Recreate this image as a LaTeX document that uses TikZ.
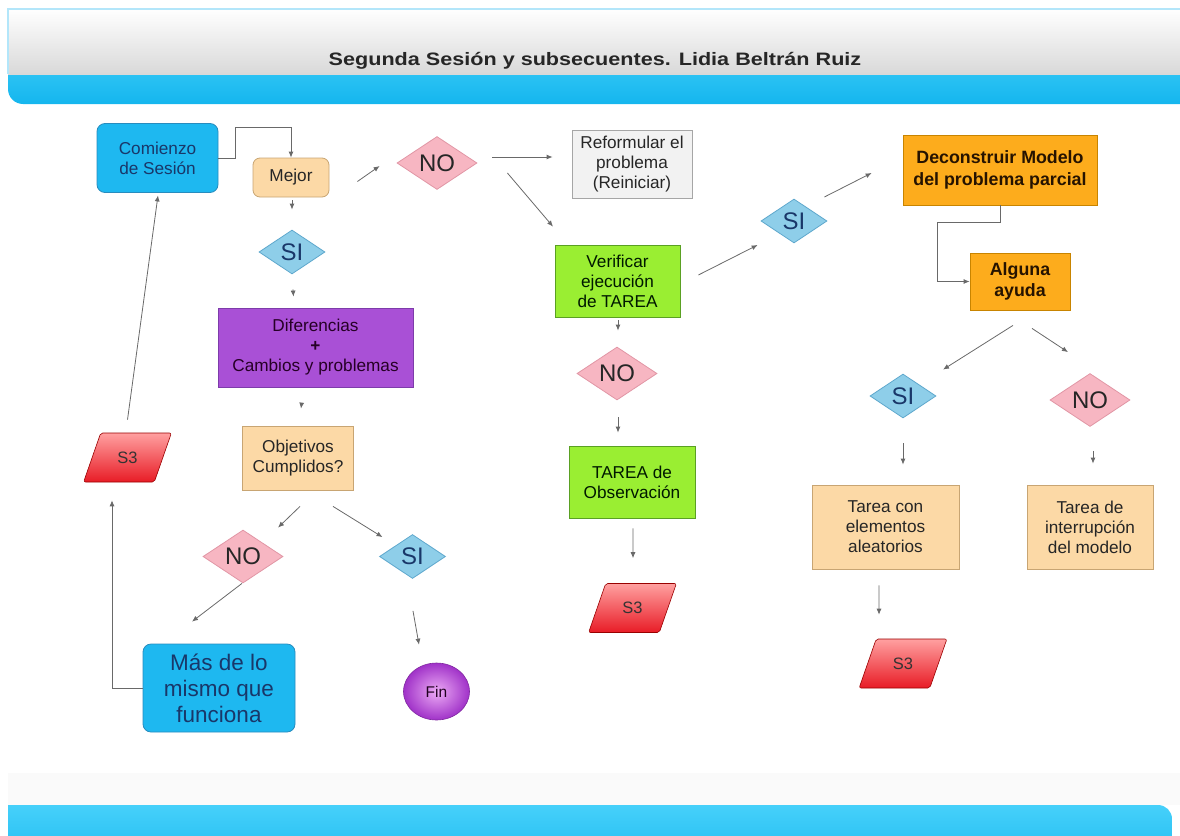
\documentclass[tikz,border=0pt]{standalone}
\usepackage{fontspec}
\setmainfont{Liberation Sans}
\newfontfamily\titulofont[FakeStretch=1.2]{Liberation Sans}
\usepackage{xcolor}
\usetikzlibrary{arrows.meta, positioning, shapes.geometric}

\newcommand{\setfs}[2]{\fontsize{#1}{#2}\selectfont}

\definecolor{cian}{RGB}{30,184,240}
\definecolor{cianborde}{RGB}{40,140,190}
\definecolor{marino}{RGB}{25,55,105}
\definecolor{crema}{RGB}{252,217,166}
\definecolor{cremaborde}{RGB}{200,165,115}
\definecolor{rosa}{RGB}{247,182,194}
\definecolor{rosaborde}{RGB}{225,150,165}
\definecolor{celeste}{RGB}{142,206,233}
\definecolor{celesteborde}{RGB}{95,168,205}
\definecolor{verde}{RGB}{154,238,50}
\definecolor{verdeborde}{RGB}{90,160,35}
\definecolor{morado}{RGB}{169,80,214}
\definecolor{moradoborde}{RGB}{125,60,170}
\definecolor{naranja}{RGB}{253,172,28}
\definecolor{naranjaborde}{RGB}{200,132,0}
\definecolor{gris}{RGB}{242,242,242}
\definecolor{flecha}{RGB}{105,105,105}
\definecolor{barra}{RGB}{20,182,238}
\definecolor{barraclara}{RGB}{70,208,250}
\definecolor{finclaro}{RGB}{236,170,245}
\definecolor{finoscuro}{RGB}{160,50,200}

\begin{document}
\begin{tikzpicture}[
  x=1pt, y=-1pt,
  caja/.style={rectangle, draw, line width=0.8pt, inner sep=2pt, align=center,
               font=\setfs{17.2}{20}, text=black!85},
  inicio/.style={caja, rounded corners=8pt, fill=cian, draw=cianborde, text=marino},
  cajacrema/.style={caja, fill=crema, draw=cremaborde},
  cajaverde/.style={caja, fill=verde, draw=verdeborde, text=black!75!green!40!black},
  cajanaranja/.style={caja, fill=naranja, draw=naranjaborde, font=\bfseries\setfs{17.8}{21.5},
                      text=black!85!orange},
  decsi/.style={diamond, draw=celesteborde, fill=celeste, line width=0.8pt, inner sep=0pt,
                minimum width=66pt, minimum height=44pt, font=\setfs{24}{26}, text=marino},
  decno/.style={diamond, draw=rosaborde, fill=rosa, line width=0.8pt, inner sep=0pt,
                minimum width=80pt, minimum height=52pt, font=\setfs{24}{26}, text=black!85},
  ese/.style={trapezium, trapezium left angle=65, trapezium right angle=115,
              trapezium stretches=true, minimum width=88pt, minimum height=49pt,
              rounded corners=2pt, draw=red!60!black, line width=0.6pt,
              top color={rgb,255:red,255;green,160;blue,160},
              bottom color={rgb,255:red,232;green,28;blue,38}, font=\setfs{16.5}{18}, text=black!80},
  arr/.style={-{Latex[length=6pt, width=5pt]}, line width=0.8pt, draw=flecha}
]
  \useasboundingbox (0,0) rectangle (1180,835);

  % cabecera y pie
  \begin{scope}
    \clip (8,73) rectangle (1180,104);
    \shade[top color=barraclara, bottom color=barra, rounded corners=15pt] (8,40) rectangle (1220,104);
  \end{scope}
  \shade[top color=white, bottom color=gray!30] (8,9) rectangle (1180,74);
  \draw[cyan!30, line width=1.2pt] (8,74) -- (8,9) -- (1180,9);
  \fill[gray!4] (8,773) rectangle (1180,805);
  \begin{scope}
    \clip (8,805) rectangle (1180,835);
    \shade[top color=barraclara, bottom color=barra, rounded corners=14pt] (-30,805) rectangle (1172,880);
  \end{scope}
  \node[font=\titulofont\bfseries\setfs{18}{20}, text=black!85] (titulo) at (595,61)
       {Segunda Sesión y subsecuentes. Lidia Beltrán Ruiz};

  \node[inicio, minimum width=121pt, minimum height=69pt] (comienzo) at (157.5,158) {Comienzo\\de Sesión};
  \node[cajacrema, rounded corners=7pt, minimum width=76pt, minimum height=39pt] (mejor) at (291,177.5) {Mejor};
  \node[decno] (no1) at (437,163) {NO};
  \node[decsi] (si1) at (292,252) {SI};
  \node[caja, fill=gris, draw=gray!70, minimum width=120pt, minimum height=68pt] (reformular) at (632,164)
       {Reformular el\\problema\\(Reiniciar)};
  \node[cajaverde, minimum width=125pt, minimum height=72pt] (verificar) at (617.5,281)
       {Verificar\\ejecución\\de TAREA};
  \node[decsi] (si2) at (794,221) {SI};
  \node[cajanaranja, minimum width=194pt, minimum height=70pt] (deconstruir) at (1000,170)
       {Deconstruir Modelo\\del problema parcial};
  \node[cajanaranja, minimum width=100pt, minimum height=57pt] (alguna) at (1020,281.5) {Alguna\\ayuda};
  \node[decsi] (si3) at (903,396) {SI};
  \node[decno] (no3) at (1090,400) {NO};
  \node[cajacrema, minimum width=147pt, minimum height=84pt] (aleatorios) at (885.5,527)
       {Tarea con\\elementos\\aleatorios};
  \node[cajacrema, minimum width=126pt, minimum height=84pt] (interrupcion) at (1090,527)
       {Tarea de\\interrupción\\del modelo};
  \node[ese] (s3c) at (903,663.5) {S3};

  \node[decno] (no2) at (617,373.5) {NO};
  \node[cajaverde, minimum width=126pt, minimum height=72pt] (observacion) at (632,482)
       {TAREA de\\Observación};
  \node[ese] (s3b) at (632.5,608) {S3};

  \node[caja, fill=morado, draw=moradoborde, text=black!70!violet, minimum width=195pt, minimum height=79pt]
       (diferencias) at (315.5,347.5) {Diferencias\\{\bfseries +}\\Cambios y problemas};
  \node[cajacrema, minimum width=111pt, minimum height=64pt] (objetivos) at (298,458) {Objetivos\\Cumplidos?};
  \node[decno] (no4) at (243,556.5) {NO};
  \node[decsi] (si4) at (412.5,556.5) {SI};
  \node[inicio, font=\setfs{22.5}{26}, minimum width=152pt, minimum height=88pt] (mas) at (219,688)
       {Más de lo\\mismo que\\funciona};
  \node[ellipse, minimum width=66pt, minimum height=57pt, draw=finoscuro!80!black, line width=0.6pt,
        inner color=finclaro, outer color=finoscuro,
        font=\setfs{15.5}{17}, text=black!75!violet] (fin) at (436.5,691.5) {Fin};
  \node[ese] (s3a) at (127.5,457.5) {S3};

  \draw[arr] (comienzo.east) -- ++(17,0) -- ++(0,-31) -| (mejor.north);
  \draw[arr] ([shift={(28,4)}]mejor.east) -- ([shift={(-17,3)}]no1.west);
  \draw[arr] ([shift={(1,3)}]mejor.south) -- ([shift={(0,-20)}]si1.north);
  \draw[arr] ([shift={(1,15)}]si1.south) -- ([shift={(-22,-11)}]diferencias.north);
  \draw[arr] ([shift={(-14,17)}]diferencias.south) -- ([shift={(3,-17)}]objetivos.north);
  \draw[arr] ([shift={(2,16)}]objetivos.south) -- ([shift={(35,-2)}]no4.north);
  \draw[arr] ([shift={(35,16)}]objetivos.south) -- ([shift={(-30,3)}]si4.north);
  \draw[arr] ([shift={(-1,0)}]no4.south) -- ([shift={(-27,-22)}]mas.north);
  \draw[arr] ([shift={(0.5,32)}]si4.south) -- ([shift={(-17.5,-18)}]fin.north);
  \draw[arr] (mas.west) -| ([shift={(-15.5,18)}]s3a.south);
  \draw[arr] ([shift={(0,-13)}]s3a.north) -- ([shift={(0.5,2.5)}]comienzo.south);

  \draw[arr] ([shift={(15,-6)}]no1.east) -- ([shift={(-19,-7)}]reformular.west);
  \draw[arr] ([shift={(30,10)}]no1.east) -- ([shift={(-64.5,-18)}]verificar.north);
  \draw[arr] ([shift={(0.5,3)}]verificar.south) -- ([shift={(1,-16)}]no2.north);
  \draw[arr] ([shift={(1,17)}]no2.south) -- ([shift={(-14,-13)}]observacion.north);
  \draw[arr] ([shift={(1,10)}]observacion.south) -- ([shift={(0.5,-25)}]s3b.north);
  \draw[arr] ([shift={(18,-6)}]verificar.east) -- ([shift={(-3,24)}]si2.west);
  \draw[arr] ([shift={(-3,-24)}]si2.east) -- ([shift={(-31,3)}]deconstruir.west);
  \draw[arr] (deconstruir.south) -- ++(0,17) -| ([xshift=-32pt]alguna.west) -- (alguna.west);
  \draw[arr] ([shift={(-7,15)}]alguna.south) -- ([shift={(40,-4)}]si3.north);
  \draw[arr] ([shift={(12,18)}]alguna.south) -- ([shift={(-22,-21)}]no3.north);
  \draw[arr] ([shift={(0,25)}]si3.south) -- ([shift={(17.5,-20)}]aleatorios.north);
  \draw[arr] ([shift={(3,24)}]no3.south) -- ([shift={(3,-21)}]interrupcion.north);
  \draw[arr] ([shift={(-6.5,16)}]aleatorios.south) -- ([shift={(-24,-24)}]s3c.north);
\end{tikzpicture}
\end{document}
